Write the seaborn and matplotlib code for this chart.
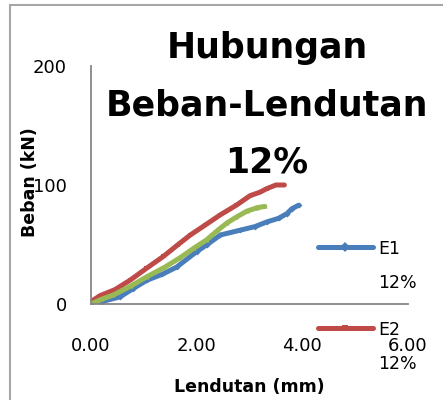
import matplotlib
matplotlib.use("Agg")
import matplotlib.pyplot as plt
import matplotlib.ticker as mticker
from matplotlib.patches import Rectangle
from matplotlib.legend_handler import HandlerLine2D
from matplotlib.transforms import Affine2D
import numpy as np
import pandas as pd
import seaborn as sns

# ---- data ----
e1_x = [0.00, 0.20, 0.55, 0.80, 1.06, 1.35, 1.62, 2.00, 2.20, 2.45, 2.82, 3.10, 3.33, 3.55, 3.71, 3.80, 3.93]
e1_y = [0, 2, 6, 13, 20, 25, 31, 44, 50, 58, 62, 65, 69, 72, 76, 80, 83]

e2_x = [0.00, 0.17, 0.45, 0.74, 1.05, 1.37, 1.65, 1.88, 2.15, 2.45, 2.75, 3.01, 3.20, 3.33, 3.50, 3.66]
e2_y = [2, 7, 12, 20, 30, 40, 50, 58, 66, 75, 83, 91, 94, 97, 100, 100]

e3_x = [0.00, 0.20, 0.42, 0.75, 1.06, 1.40, 1.69, 1.95, 2.19, 2.40, 2.57, 2.75, 2.95, 3.15, 3.29]
e3_y = [0, 4, 7.5, 15, 23, 31, 39, 47, 54, 62, 68, 73, 78, 81, 82]

series_names = ["E1\n12%", "E2\n12%", "E3\n12%"]
title_text = "Hubungan\nBeban-Lendutan\n12%"
x_label = "Lendutan (mm)"
y_label = "Beban (kN)"
x_ticks = [0, 2, 4, 6]
y_ticks = [0, 100, 200]

frames = []
for name, xs, ys in zip(series_names, [e1_x, e2_x, e3_x], [e1_y, e2_y, e3_y]):
    frames.append(pd.DataFrame({"x": xs, "y": ys, "series": name}))
df = pd.concat(frames, ignore_index=True)

sns.set_theme(style="white")
plt.rcParams["font.family"] = ["DejaVu Sans"]
plt.rcParams["text.color"] = "black"
plt.rcParams["axes.labelcolor"] = "black"

W, H = 443, 400
fig = plt.figure(figsize=(W / 100, H / 100), dpi=100)
ax = fig.add_axes([91 / W, (H - 304) / H, (408 - 91) / W, (304 - 66) / H])

palette = {series_names[0]: "#4A7EBB", series_names[1]: "#BE4B48", series_names[2]: "#98B954"}
markers = {series_names[0]: "D", series_names[1]: "s", series_names[2]: "^"}

sns.lineplot(data=df, x="x", y="y", hue="series", style="series", palette=palette,
             markers=markers, dashes=False, sort=False, estimator=None, units="series",
             linewidth=3.6, markersize=3, markeredgewidth=0, ax=ax, legend=False)

ax.set_xlim(0, 6)
ax.set_ylim(0, 200)
ax.set_xticks(x_ticks)
ax.set_yticks(y_ticks)
ax.xaxis.set_major_formatter(mticker.FormatStrFormatter("%.2f"))
for s in ["top", "right"]:
    ax.spines[s].set_visible(False)
for s in ["left", "bottom"]:
    ax.spines[s].set_color("#868686")
    ax.spines[s].set_linewidth(1.3)
ax.tick_params(axis="both", direction="inout", length=11, width=1.3, color="#868686",
               labelsize=13, labelcolor="black")
ax.tick_params(axis="y", pad=12)
ax.tick_params(axis="x", pad=18)
ax.set_xlabel(x_label, fontsize=12.5, fontweight="bold", labelpad=17)
ax.set_ylabel(y_label, fontsize=12.5, fontweight="bold")
ax.yaxis.set_label_coords(-0.163, 0.51)

fig.text(267 / W, 1 - 31 / H, title_text, ha="center", va="top", fontsize=25,
         fontweight="bold", linespacing=1.87, color="black")


class ShiftedLine(HandlerLine2D):
    def __init__(self, dy, **kw):
        super().__init__(**kw)
        self.dy = dy

    def create_artists(self, legend, orig_handle, xdescent, ydescent, width, height,
                       fontsize, trans):
        t = trans + Affine2D().translate(0, self.dy)
        return super().create_artists(legend, orig_handle, xdescent, ydescent, width,
                                      height, fontsize, t)


handles = [plt.Line2D([], [], color=palette[n], lw=3.6, marker=markers[n], markersize=5,
                      markeredgewidth=0) for n in series_names]
leg = fig.legend(handles, series_names, loc="upper left", bbox_to_anchor=(318 / W, 1 - 240 / H),
                 frameon=False, fontsize=12.5, handlelength=3.15, handletextpad=0.3,
                 labelspacing=1.68, borderaxespad=0, borderpad=0,
                 handler_map={plt.Line2D: ShiftedLine(20)})
for t in leg.get_texts():
    t.set_linespacing(2.15)
    t.set_color("black")

fig.patches.append(Rectangle((10 / W, -0.1), 1.2, 1 - 5 / H + 0.1, transform=fig.transFigure,
                             fill=False, edgecolor="#A6A6A6", linewidth=1.5, zorder=-1))

fig.savefig("out.png", dpi=100, facecolor="white")
